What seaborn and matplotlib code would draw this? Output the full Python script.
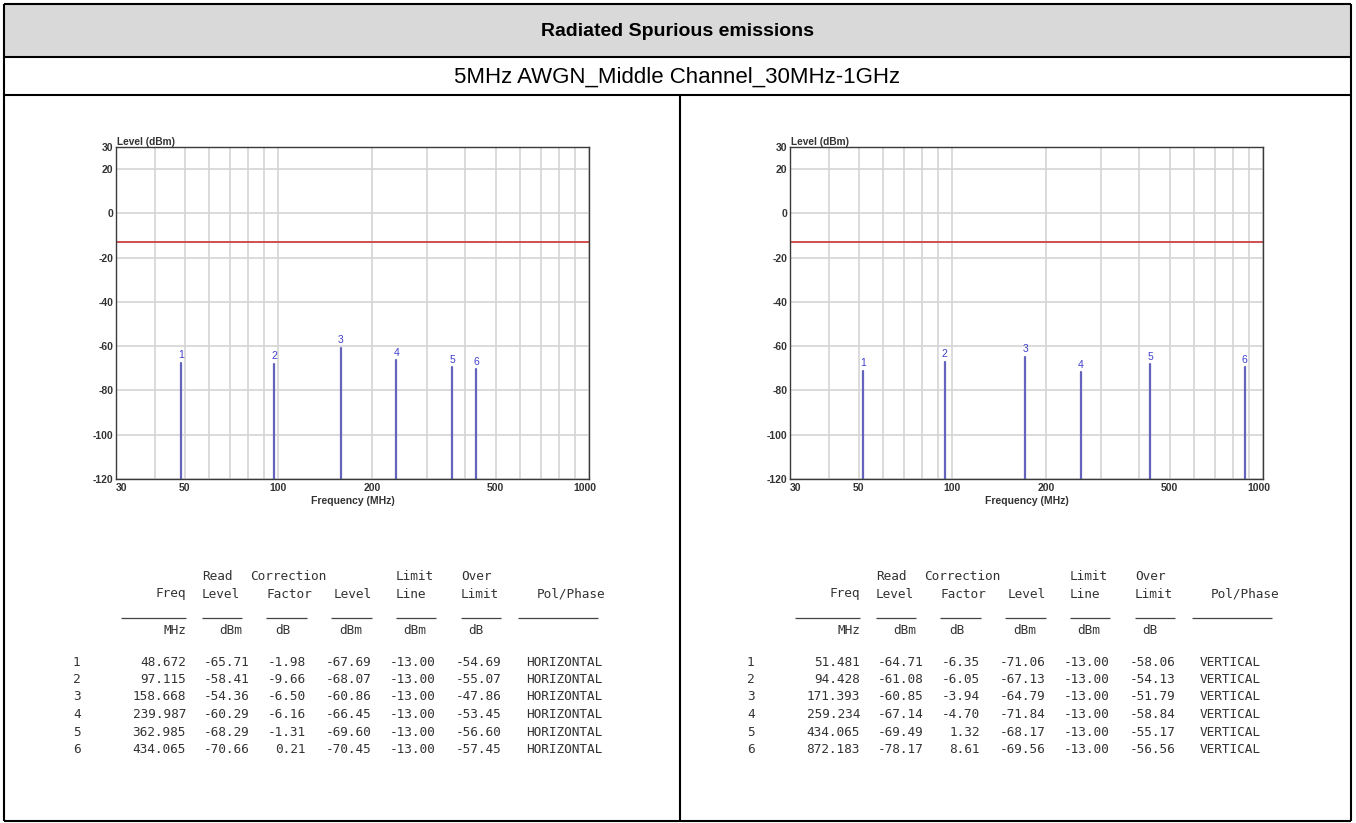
import matplotlib
matplotlib.use("Agg")
import matplotlib.pyplot as plt
from matplotlib.lines import Line2D
from matplotlib.patches import Rectangle
from matplotlib.transforms import ScaledTranslation
import seaborn as sns
import pandas as pd

# ---- measurement data -------------------------------------------------
LIMIT = -13.00

h_freq = [48.672, 97.115, 158.668, 239.987, 362.985, 434.065]
h_read = [-65.71, -58.41, -54.36, -60.29, -68.29, -70.66]
h_corr = [-1.98, -9.66, -6.50, -6.16, -1.31, 0.21]
h_level = [-67.69, -68.07, -60.86, -66.45, -69.60, -70.45]
h_over = [-54.69, -55.07, -47.86, -53.45, -56.60, -57.45]
h_pol = "HORIZONTAL"

v_freq = [51.481, 94.428, 171.393, 259.234, 434.065, 872.183]
v_read = [-64.71, -61.08, -60.85, -67.14, -69.49, -78.17]
v_corr = [-6.35, -6.05, -3.94, -4.70, 1.32, 8.61]
v_level = [-71.06, -67.13, -64.79, -71.84, -68.17, -69.56]
v_over = [-58.06, -54.13, -51.79, -58.84, -55.17, -56.56]
v_pol = "VERTICAL"

y_ticks = [30, 20, 0, -20, -40, -60, -80, -100, -120]
x_ticks = [30, 50, 100, 200, 500, 1000]
x_grid = [40, 50, 60, 70, 80, 90, 100, 200, 300, 400, 500, 600, 700, 800, 900]

TITLE = "Radiated Spurious emissions"
SUBTITLE = "5MHz AWGN_Middle Channel_30MHz-1GHz"

# ---- page layout (pixels) --------------------------------------------
W, H = 1356, 823
sns.set_style("white")
plt.rcParams["font.family"] = ["Liberation Sans", "DejaVu Sans"]

fig = plt.figure(figsize=(W / 100, H / 100), dpi=100)
fig.patch.set_facecolor("white")


def fx(x):
    return x / W


def fy(y):
    return 1 - y / H


def hline(x0, x1, y, lw=1.5, color="black"):
    fig.add_artist(Line2D([fx(x0), fx(x1)], [fy(y), fy(y)], lw=lw, color=color,
                          transform=fig.transFigure, solid_capstyle="butt"))


def vline(x, y0, y1, lw=1.5, color="black"):
    fig.add_artist(Line2D([fx(x), fx(x)], [fy(y0), fy(y1)], lw=lw, color=color,
                          transform=fig.transFigure, solid_capstyle="butt"))


LEFT, RIGHT, TOP, BOTTOM = 4, 1351, 4, 821
ROW1, ROW2, MID = 57, 95, 680

fig.add_artist(Rectangle((fx(LEFT), fy(ROW1)), fx(RIGHT) - fx(LEFT), fy(TOP) - fy(ROW1),
                         transform=fig.transFigure, facecolor="#d9d9d9", edgecolor="none"))
hline(LEFT, RIGHT, TOP)
hline(LEFT, RIGHT, ROW1)
hline(LEFT, RIGHT, ROW2)
hline(LEFT, RIGHT, BOTTOM)
vline(LEFT, TOP, BOTTOM)
vline(RIGHT, TOP, BOTTOM)
vline(MID, ROW2, BOTTOM)

fig.text(fx((LEFT + RIGHT) / 2), fy((TOP + ROW1) / 2 + 1), TITLE, ha="center", va="center",
         fontsize=14, fontweight="bold", color="black")
fig.text(fx((LEFT + RIGHT) / 2), fy((ROW1 + ROW2) / 2 + 1), SUBTITLE, ha="center",
         va="center", fontsize=16, color="black")

STEM_COLOR = "#6464bc"
LABEL_COLOR = "#4040cc"
LIMIT_COLOR = "#cc4040"
GRID_COLOR = "#d4d4d4"
TEXT_COLOR = "#333333"


def draw_chart(x0, freqs, levels):
    ax = fig.add_axes([fx(x0), fy(479), (473) / W, (479 - 147) / H])
    ax.set_xscale("log")
    ax.set_xlim(30, 1000)
    ax.set_ylim(-120, 30)

    # limit line
    lim_df = pd.DataFrame({"freq": [30, 1000], "level": [LIMIT, LIMIT]})
    sns.lineplot(data=lim_df, x="freq", y="level", color=LIMIT_COLOR, lw=1.3, ax=ax,
                 legend=False)

    # stems from the floor to each marker level
    rows = []
    for i, (f, lv) in enumerate(zip(freqs, levels), start=1):
        rows.append({"marker": i, "freq": f, "level": -120})
        rows.append({"marker": i, "freq": f, "level": lv})
    stem_df = pd.DataFrame(rows)
    sns.lineplot(data=stem_df, x="freq", y="level", units="marker", estimator=None,
                 sort=False, color=STEM_COLOR, lw=1.6, ax=ax, legend=False)

    offset = ScaledTranslation(0, 2 / 72, fig.dpi_scale_trans)
    for i, (f, lv) in enumerate(zip(freqs, levels), start=1):
        ax.text(f, lv, str(i), ha="center", va="bottom", fontsize=7.5,
                color=LABEL_COLOR, transform=ax.transData + offset)

    ax.set_yticks(y_ticks)
    ax.set_xticks(x_ticks)
    ax.set_xticks([g for g in x_grid if g not in x_ticks], minor=True)
    ax.set_xticklabels([str(t) for t in x_ticks])
    ax.set_yticklabels([str(t) for t in y_ticks])
    ax.tick_params(axis="both", which="both", length=0, labelsize=7.5,
                   labelcolor=TEXT_COLOR)
    ax.tick_params(axis="x", pad=3)
    ax.tick_params(axis="y", pad=2)
    for lab in ax.get_xticklabels() + ax.get_yticklabels():
        lab.set_fontweight("bold")
    xl = ax.get_xticklabels()
    xl[0].set_horizontalalignment("left")
    xl[-1].set_transform(xl[-1].get_transform() +
                         ScaledTranslation(-4 / 100, 0, fig.dpi_scale_trans))

    ax.grid(True, which="both", color=GRID_COLOR, lw=1.2)
    ax.set_axisbelow(True)
    for s in ax.spines.values():
        s.set_color("#3a3a3a")
        s.set_linewidth(1.0)

    ax.set_xlabel("Frequency (MHz)", fontsize=7.5, fontweight="bold", color=TEXT_COLOR,
                  labelpad=2)
    ax.set_ylabel("")
    ax.text(0.003, 1.0, "Level (dBm)", transform=ax.transAxes, ha="left", va="bottom",
            fontsize=7.3, fontweight="bold", color=TEXT_COLOR)
    return ax


draw_chart(116, h_freq, h_level)
draw_chart(790, v_freq, v_level)

# ---- result tables ----------------------------------------------------
MONO = ["DejaVu Sans Mono"]
TS = 9.2


def t(x, y, s, ha="left"):
    fig.text(fx(x), fy(y), s, ha=ha, va="center", family=MONO, fontsize=TS,
             color=TEXT_COLOR)


def draw_table(dx, freqs, reads, corrs, levels, overs, pol):
    # two-line column headings
    t(dx + 202, 576, "Read")
    t(dx + 250, 576, "Correction")
    t(dx + 396, 576, "Limit")
    t(dx + 461, 576, "Over")
    t(dx + 186, 594, "Freq", "right")
    t(dx + 202, 594, "Level")
    t(dx + 266, 594, "Factor")
    t(dx + 372, 594, "Level", "right")
    t(dx + 396, 594, "Line")
    t(dx + 461, 594, "Limit")
    t(dx + 605, 594, "Pol/Phase", "right")
    for a, b in [(121, 186), (202, 242), (266, 307), (331, 372), (396, 436),
                 (461, 501), (518, 598)]:
        hline(dx + a, dx + b, 618, lw=0.9, color="#444444")
    t(dx + 186, 630, "MHz", "right")
    t(dx + 242, 630, "dBm", "right")
    t(dx + 275, 630, "dB")
    t(dx + 339, 630, "dBm")
    t(dx + 403, 630, "dBm")
    t(dx + 468, 630, "dB")

    for i in range(len(freqs)):
        y = 662 + 17.5 * i
        t(dx + 73, y, str(i + 1))
        t(dx + 186, y, f"{freqs[i]:.3f}", "right")
        t(dx + 250, y, f"{reads[i]:.2f}", "right")
        t(dx + 306, y, f"{corrs[i]:.2f}", "right")
        t(dx + 372, y, f"{levels[i]:.2f}", "right")
        t(dx + 436, y, f"{LIMIT:.2f}", "right")
        t(dx + 501, y, f"{overs[i]:.2f}", "right")
        t(dx + 526, y, pol)


draw_table(0, h_freq, h_read, h_corr, h_level, h_over, h_pol)
draw_table(674, v_freq, v_read, v_corr, v_level, v_over, v_pol)

fig.savefig("out.png", dpi=100)
